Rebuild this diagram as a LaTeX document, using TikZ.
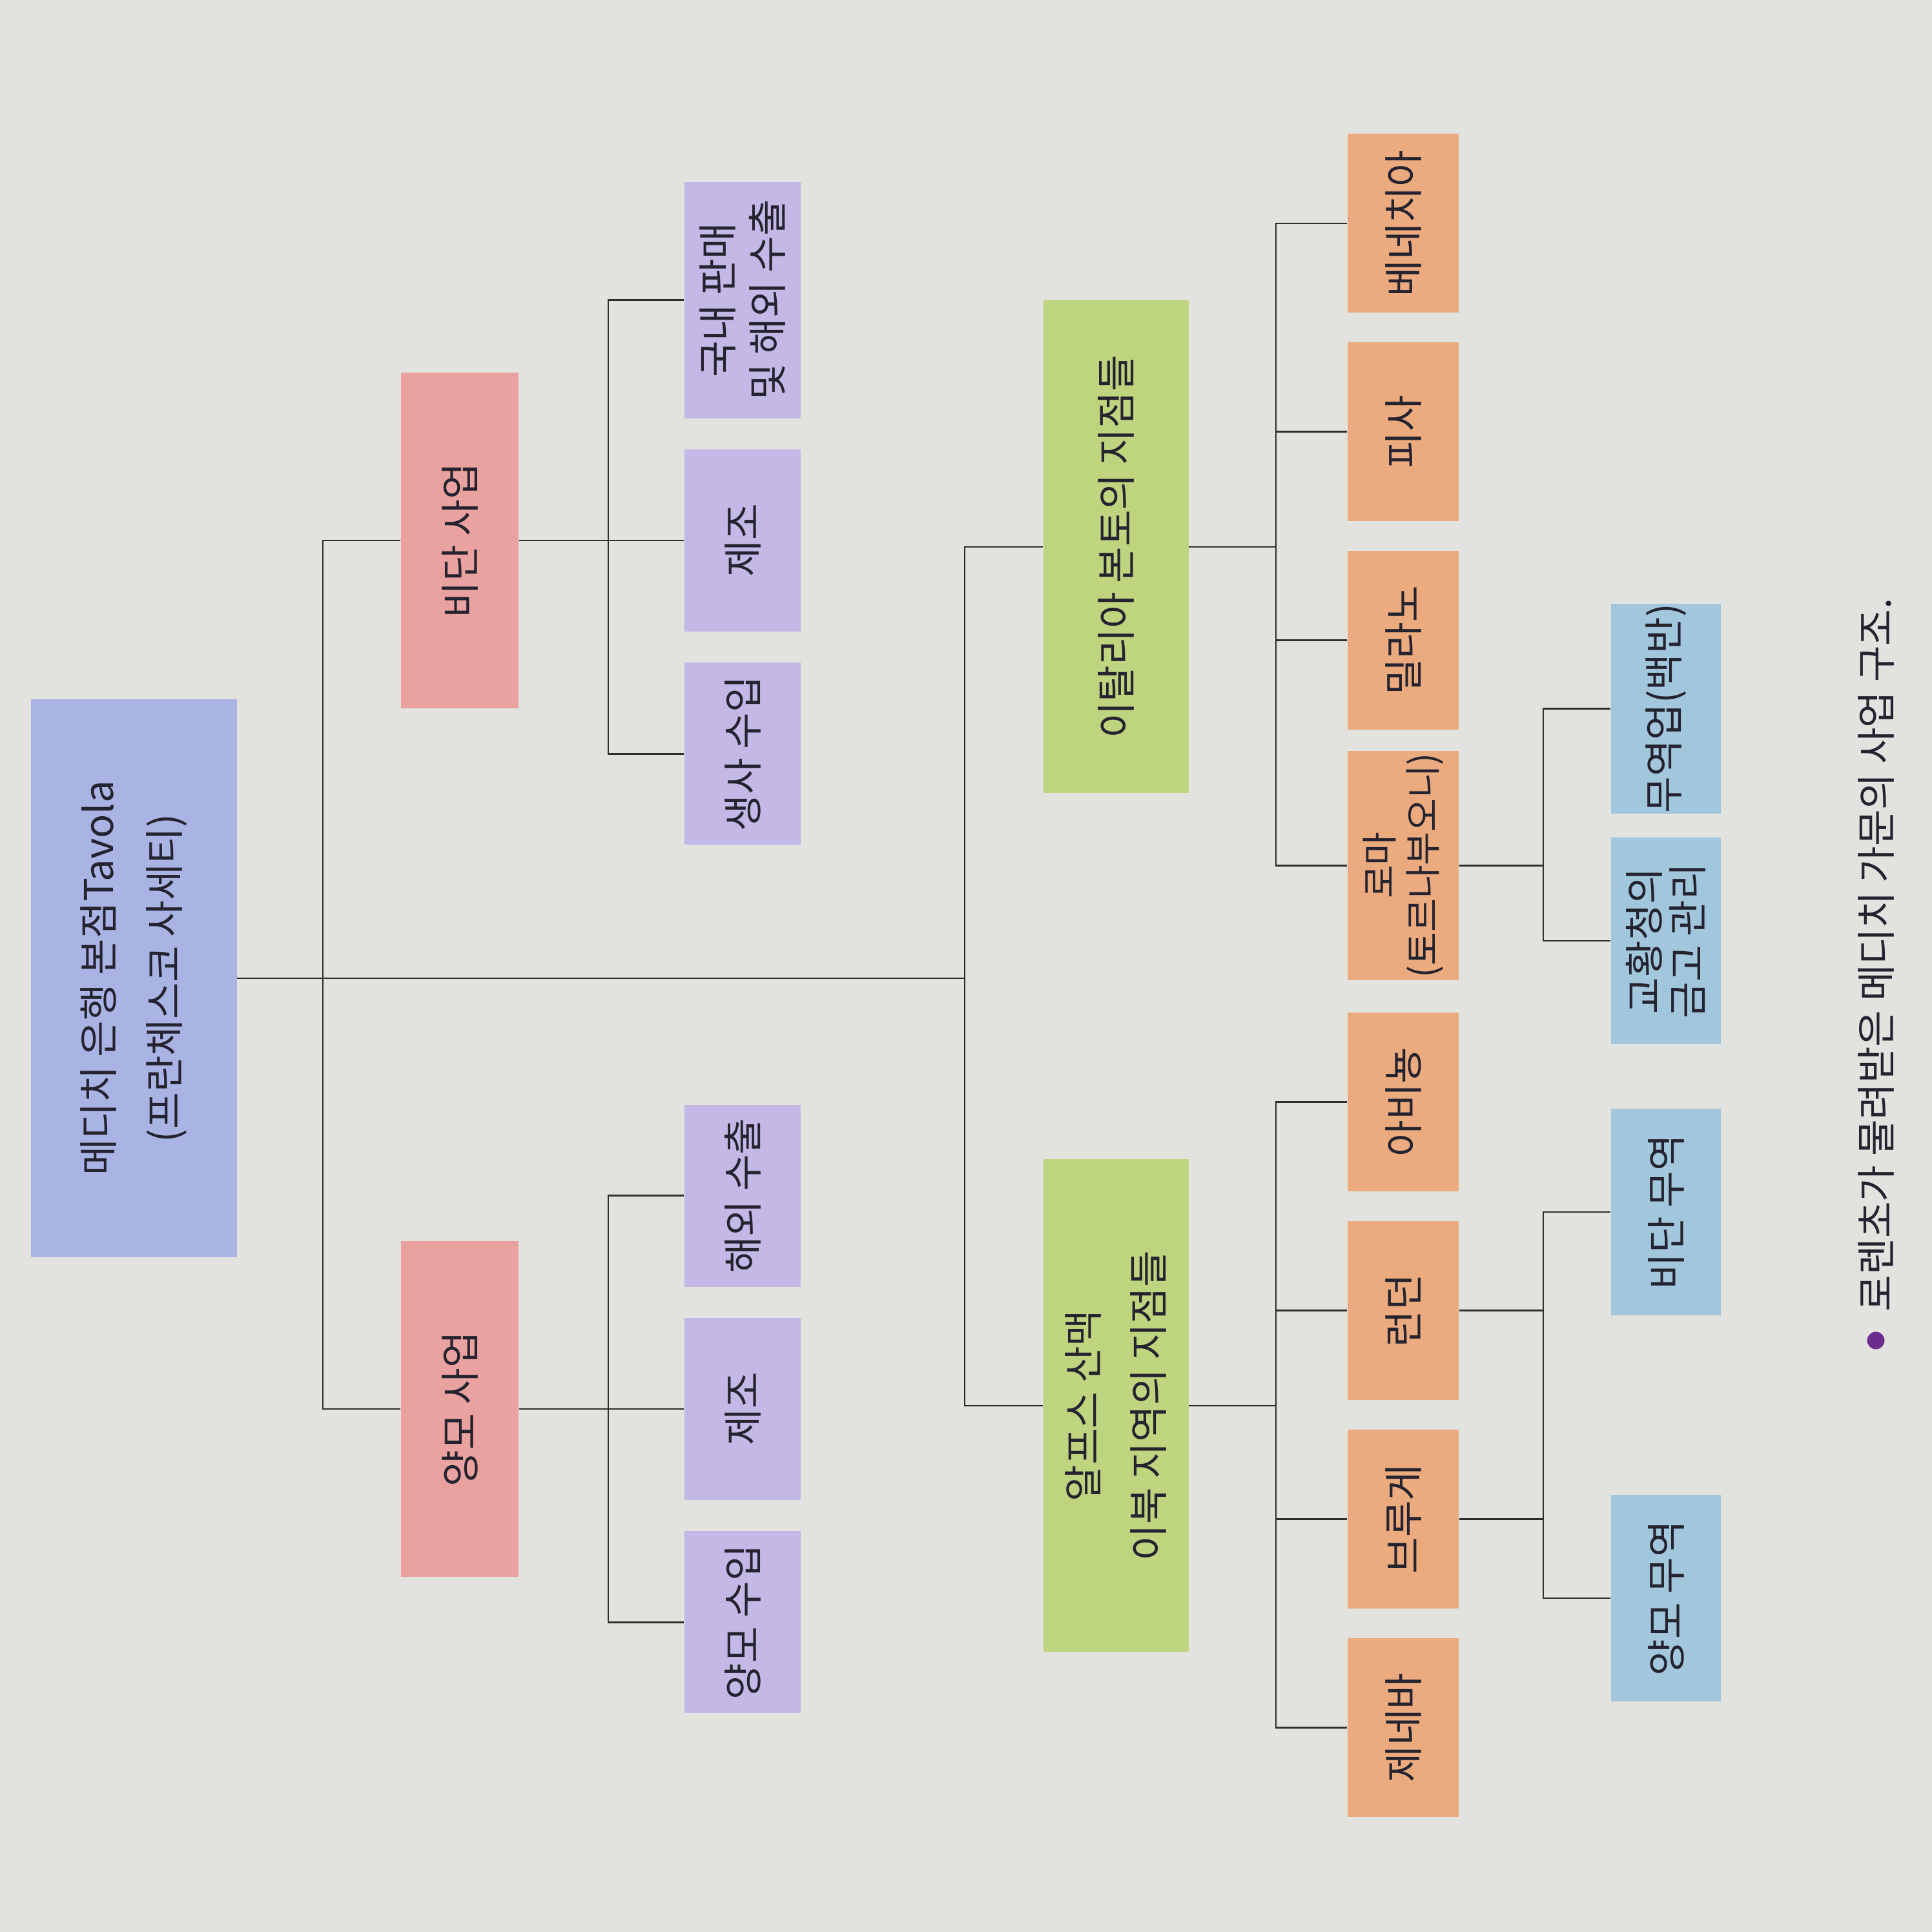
\documentclass[tikz,border=0pt]{standalone}
\usepackage{fontspec}
\setmainfont{Noto Sans CJK KR}
\usetikzlibrary{positioning}
\definecolor{PaperGrey}{HTML}{E2E2DE}
\definecolor{HeadBlue}{HTML}{AAB4E4}
\definecolor{TradePink}{HTML}{E9A29F}
\definecolor{WorkLilac}{HTML}{C4B9E6}
\definecolor{RegionGreen}{HTML}{BFD47F}
\definecolor{CityOrange}{HTML}{EBAB7E}
\definecolor{MarketBlue}{HTML}{A2C6DC}
\definecolor{InkDark}{HTML}{24232F}
\definecolor{LineGrey}{HTML}{2E2E2E}
\definecolor{DotPurple}{HTML}{6B2D8C}

\begin{document}
\begin{tikzpicture}[
    rotate=90,transform shape,
    box/.style={rectangle,inner sep=0pt,align=center,text=InkDark,
      font=\fontsize{17.5}{22}\selectfont},
    headbox/.style={box,fill=HeadBlue,minimum width=8.64cm,minimum height=3.19cm,
      font=\fontsize{17.5}{29}\selectfont},
    bizbox/.style={box,fill=TradePink,minimum width=5.2cm,minimum height=1.82cm},
    itembox/.style={box,fill=WorkLilac,minimum width=2.82cm,minimum height=1.8cm},
    regionbox/.style={box,fill=RegionGreen,minimum width=7.63cm,minimum height=2.25cm,
      font=\fontsize{17.5}{29}\selectfont},
    citybox/.style={box,fill=CityOrange,minimum width=2.77cm,minimum height=1.72cm,
      font=\fontsize{17.5}{19}\selectfont},
    marketbox/.style={box,fill=MarketBlue,minimum width=3.2cm,minimum height=1.7cm,
      font=\fontsize{17.5}{19}\selectfont},
    link/.style={draw=LineGrey,line width=0.8pt}
  ]
    \fill[PaperGrey] (0,0) rectangle (29.92,-29.92);

    \node[headbox] (bank) at (14.77,-2.07) {메디치 은행 본점Tavola\\(프란체스코 사세티)};

    \node[bizbox] (silk) at (21.55,-7.12) {비단 사업};
    \node[bizbox] (wool) at (8.1,-7.12) {양모 사업};

    \node[itembox] (silkmake) at (21.55,-11.5) {제조};
    \node[itembox,left=0.47cm of silkmake] (silkraw) {생사 수입};
    \node[itembox,right=0.47cm of silkmake,minimum width=3.66cm] (silksale) {국내 판매\\및 해외 수출};
    \node[itembox] (woolmake) at (8.1,-11.5) {제조};
    \node[itembox,left=0.47cm of woolmake] (woolraw) {양모 수입};
    \node[itembox,right=0.47cm of woolmake] (woolexport) {해외 수출};

    \node[regionbox] (italy) at (21.45,-17.28) {이탈리아 본토의 지점들};
    \node[regionbox] (alps) at (8.15,-17.28) {알프스 산맥\\이북 지역의 지점들};

    \node[citybox] (venice) at (26.46,-21.73) {베네치아};
    \node[citybox,left=0.445cm of venice] (pisa) {피사};
    \node[citybox,left=0.445cm of pisa] (milan) {밀라노};
    \node[citybox,left=0.31cm of milan,text width=3.55cm,
      font=\fontsize{16}{19}\selectfont] (rome) {로마\\(토르나부오니)};
    \node[citybox,left=0.49cm of rome] (avignon) {아비뇽};
    \node[citybox,left=0.445cm of avignon] (london) {런던};
    \node[citybox,left=0.445cm of london] (bruges) {브루게};
    \node[citybox,left=0.445cm of bruges] (geneva) {제네바};

    \node[marketbox] (papal) at (15.35,-25.8) {교황청의\\금고 관리};
    \node[marketbox,right=0.36cm of papal] (alum) {무역업(백반)};
    \node[marketbox] (silktrade) at (11.15,-25.8) {비단 무역};
    \node[marketbox] (wooltrade) at (5.17,-25.8) {양모 무역};

    \node[circle,fill=DotPurple,minimum size=0.27cm,inner sep=0pt] (dot) at (9.16,-29.05) {};
    \node[right=0.3cm of dot,inner sep=0pt,text=InkDark,font=\fontsize{17.5}{20}\selectfont] (caption)
      {로렌초가 물려받은 메디치 가문의 사업 구조.};

    \coordinate (bizbar) at (0,-5.0);
    \coordinate (branchbar) at (0,-14.94);
    \coordinate (workbar) at (0,-9.42);
    \coordinate (citybar) at (0,-19.76);
    \coordinate (tradebar) at (0,-23.9);

    \draw[link] (bank.south) -- (bank.south |- branchbar);
    \draw[link] (silk.north) -- (silk.north |- bizbar) -- (wool.north |- bizbar) -- (wool.north);
    \draw[link] (italy.north) -- (italy.north |- branchbar) -- (alps.north |- branchbar) -- (alps.north);

    \draw[link] (silk.south) -- (silkmake.north);
    \draw[link] (silkraw.north) -- (silkraw.north |- workbar) -- (silksale.north |- workbar) -- (silksale.north);
    \draw[link] (wool.south) -- (woolmake.north);
    \draw[link] (woolraw.north) -- (woolraw.north |- workbar) -- (woolexport.north |- workbar) -- (woolexport.north);

    \draw[link] (italy.south) -- (italy.south |- citybar);
    \draw[link] (rome.north) -- (rome.north |- citybar) -- (venice.north |- citybar) -- (venice.north);
    \draw[link] (pisa.north) -- (pisa.north |- citybar);
    \draw[link] (milan.north) -- (milan.north |- citybar);
    \draw[link] (alps.south) -- (alps.south |- citybar);
    \draw[link] (geneva.north) -- (geneva.north |- citybar) -- (avignon.north |- citybar) -- (avignon.north);
    \draw[link] (london.north) -- (london.north |- citybar);
    \draw[link] (bruges.north) -- (bruges.north |- citybar);

    \draw[link] (rome.south) -- (rome.south |- tradebar);
    \draw[link] (papal.north) -- (papal.north |- tradebar) -- (alum.north |- tradebar) -- (alum.north);
    \draw[link] (london.south) -- (london.south |- tradebar);
    \draw[link] (bruges.south) -- (bruges.south |- tradebar);
    \draw[link] (wooltrade.north) -- (wooltrade.north |- tradebar) -- (silktrade.north |- tradebar) -- (silktrade.north);
  \end{tikzpicture}
\end{document}
